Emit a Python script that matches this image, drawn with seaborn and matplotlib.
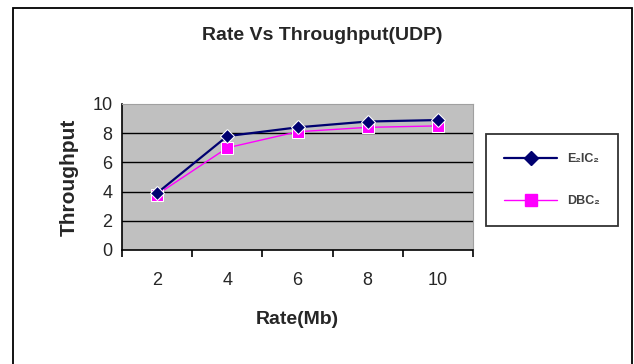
import matplotlib
matplotlib.use("Agg")
import matplotlib.pyplot as plt
import seaborn as sns
import pandas as pd
from matplotlib.patches import Rectangle
from matplotlib.ticker import FixedLocator

rates = [2, 4, 6, 8, 10]
e2ic2 = [3.9, 7.8, 8.4, 8.8, 8.9]
dbc2 = [3.8, 7.0, 8.1, 8.4, 8.5]
series_names = ["E\u2082IC\u2082", "DBC\u2082"]
yticks = [0, 2, 4, 6, 8, 10]

df = pd.DataFrame({
    "Rate": rates * 2,
    "Throughput": e2ic2 + dbc2,
    "Series": [series_names[0]] * len(rates) + [series_names[1]] * len(rates),
})

sns.set_style("white")
plt.rcParams["font.family"] = ["Liberation Sans", "DejaVu Sans"]

fig = plt.figure(figsize=(6.34, 3.64), dpi=100)
ax = fig.add_axes([122 / 634, 1 - 250 / 364, 351 / 634, 146 / 364])

sns.lineplot(data=df, x="Rate", y="Throughput", hue="Series", style="Series",
             palette=["#000070", "#FF00FF"], markers=["D", "s"], dashes=False,
             markersize=7, ax=ax, legend=False)
lines = ax.get_lines()
lines[0].set_linewidth(1.6)
lines[0].set_markersize(7)
lines[1].set_linewidth(1.0)
lines[1].set_markersize(8)
lines[1].set_zorder(3)
lines[0].set_zorder(4)

ax.set_facecolor("#C0C0C0")
ax.set_xlim(1, 11)
ax.set_ylim(0, 10)
ax.set_yticks(yticks)
ax.set_xticks(rates)
ax.set_xticklabels([str(r) for r in rates])
ax.xaxis.set_minor_locator(FixedLocator([1, 3, 5, 7, 9, 11]))
for y in yticks[1:-1]:
    ax.axhline(y, color="black", lw=1.0, zorder=1)
ax.tick_params(axis="x", which="major", length=0, pad=16, labelsize=13)
ax.tick_params(axis="x", which="minor", length=5, width=1.2, direction="out", color="black")
ax.tick_params(axis="y", which="major", length=5, width=1.2, direction="out", color="black", labelsize=13, pad=2)
ax.xaxis.set_tick_params(which="minor", bottom=True)
for s in ["top", "right"]:
    ax.spines[s].set_color("#A0A0A0")
    ax.spines[s].set_linewidth(0.8)
for s in ["left", "bottom"]:
    ax.spines[s].set_color("black")
    ax.spines[s].set_linewidth(1.2)

ax.set_xlabel("Rate(Mb)", fontsize=14, fontweight="bold", labelpad=16)
ax.set_ylabel("Throughput", fontsize=15, fontweight="bold", labelpad=10)
fig.text(322 / 634, 1 - 36 / 364, "Rate Vs Throughput(UDP)", fontsize=14,
         fontweight="bold", ha="center", va="center")

handles = [plt.Line2D([], [], color=l.get_color(), marker=l.get_marker(),
                      lw=l.get_linewidth(), markersize=l.get_markersize()) for l in lines]
leg = fig.legend(handles, series_names, loc="center",
                 bbox_to_anchor=(552 / 634, 1 - 180 / 364), frameon=True,
                 fontsize=9, handlelength=4.2, labelspacing=2.4,
                 borderpad=1.5, handletextpad=0.8, borderaxespad=0,
                 fancybox=False, shadow=False)
leg.get_frame().set_edgecolor("black")
leg.get_frame().set_linewidth(1.3)
for t in leg.get_texts():
    t.set_color("#404040")
    t.set_fontweight("bold")

fig.patches.append(Rectangle((13 / 634, -0.02), (632 - 13) / 634, 1.02 - 8 / 364,
                             transform=fig.transFigure, fill=False,
                             edgecolor="black", lw=1.3))

fig.savefig("out.png", dpi=100)
